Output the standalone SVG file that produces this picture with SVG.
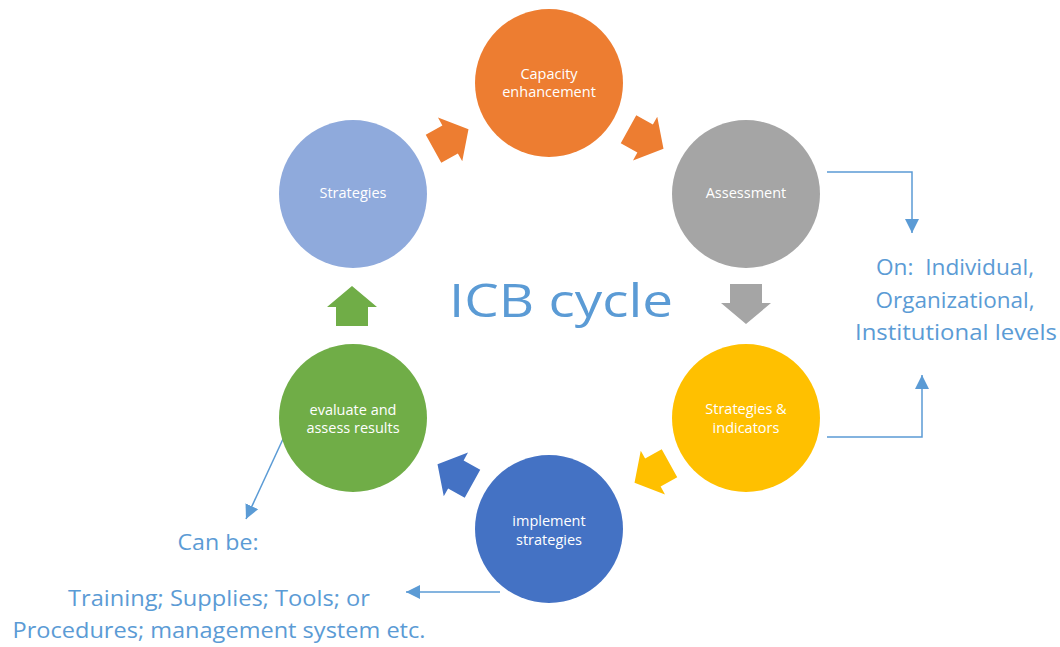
<svg xmlns="http://www.w3.org/2000/svg" width="1060" height="647" viewBox="0 0 1060 647">
<style>
.lbl{font-family:"Open Sans","Liberation Sans",sans-serif;font-size:14.5px;fill:#fff;text-anchor:middle}
.note{font-family:"Open Sans","Liberation Sans",sans-serif;font-size:22px;fill:#5B9BD5;text-anchor:middle}
.title{font-family:"Open Sans","Liberation Sans",sans-serif;font-size:45px;fill:#5B9BD5;text-anchor:middle}
.conn{fill:none;stroke:#5B9BD5;stroke-width:1.5}
.pre{white-space:pre}
</style>
<defs>
<polygon id="blk" points="-20,-16 -1,-16 -1,-25 20,0 -1,25 -1,16 -20,16"/>
<marker id="ah" markerWidth="14" markerHeight="16" refX="14" refY="7" orient="auto" markerUnits="userSpaceOnUse" viewBox="0 0 14 14">
<path d="M0,0 L14,7 L0,14 Z" fill="#5B9BD5"/>
</marker>
</defs>
<rect width="1060" height="647" fill="#fff"/>

<g id="cycle-arrows">
<use href="#blk" fill="#ED7D31" transform="translate(451,139) rotate(-29)"/>
<use href="#blk" fill="#ED7D31" transform="translate(646,139) rotate(29)"/>
<use href="#blk" fill="#A5A5A5" transform="translate(746,304) rotate(90)"/>
<use href="#blk" fill="#FFC000" transform="translate(652,473) rotate(151)"/>
<use href="#blk" fill="#4472C4" transform="translate(455,474) rotate(209)"/>
<use href="#blk" fill="#70AD47" transform="translate(352,306) rotate(-90)"/>
</g>

<g id="connectors">
<polyline class="conn" points="827,172 912,172 912,233" marker-end="url(#ah)"/>
<polyline class="conn" points="827,437 922,437 922,375" marker-end="url(#ah)"/>
<line class="conn" x1="283" y1="439" x2="246" y2="519" marker-end="url(#ah)"/>
<line class="conn" x1="500" y1="592" x2="406" y2="592" marker-end="url(#ah)"/>
</g>

<g id="capacity">
<circle cx="549" cy="83" r="74" fill="#ED7D31"/>
<text class="lbl" x="549" y="79">Capacity</text>
<text class="lbl" x="549" y="97">enhancement</text>
</g>
<g id="assessment">
<circle cx="746" cy="194" r="74" fill="#A5A5A5"/>
<text class="lbl" x="746" y="198">Assessment</text>
</g>
<g id="strategies-indicators">
<circle cx="746" cy="418" r="74" fill="#FFC000"/>
<text class="lbl" x="746" y="414">Strategies &amp;</text>
<text class="lbl" x="746" y="433">indicators</text>
</g>
<g id="implement">
<circle cx="549" cy="529" r="74" fill="#4472C4"/>
<text class="lbl" x="549" y="526">implement</text>
<text class="lbl" x="549" y="545">strategies</text>
</g>
<g id="evaluate">
<circle cx="353" cy="418" r="74" fill="#70AD47"/>
<text class="lbl" x="353" y="415">evaluate and</text>
<text class="lbl" x="353" y="433">assess results</text>
</g>
<g id="strategies">
<circle cx="353" cy="194" r="74" fill="#8FAADC"/>
<text class="lbl" x="353" y="198">Strategies</text>
</g>

<g id="title">
<text class="title" x="561" y="317" textLength="224" lengthAdjust="spacingAndGlyphs">ICB cycle</text>
</g>

<g id="levels-note">
<text class="note pre" x="955" y="275" textLength="158" lengthAdjust="spacingAndGlyphs">On:  Individual,</text>
<text class="note" x="955" y="308" textLength="159" lengthAdjust="spacingAndGlyphs">Organizational,</text>
<text class="note" x="956" y="340" textLength="202" lengthAdjust="spacingAndGlyphs">Institutional levels</text>
</g>

<g id="canbe-note">
<text class="note" x="218" y="550" textLength="81" lengthAdjust="spacingAndGlyphs">Can be:</text>
<text class="note" x="219" y="606" textLength="302" lengthAdjust="spacingAndGlyphs">Training; Supplies; Tools; or</text>
<text class="note" x="219" y="638" textLength="413" lengthAdjust="spacingAndGlyphs">Procedures; management system etc.</text>
</g>
</svg>
